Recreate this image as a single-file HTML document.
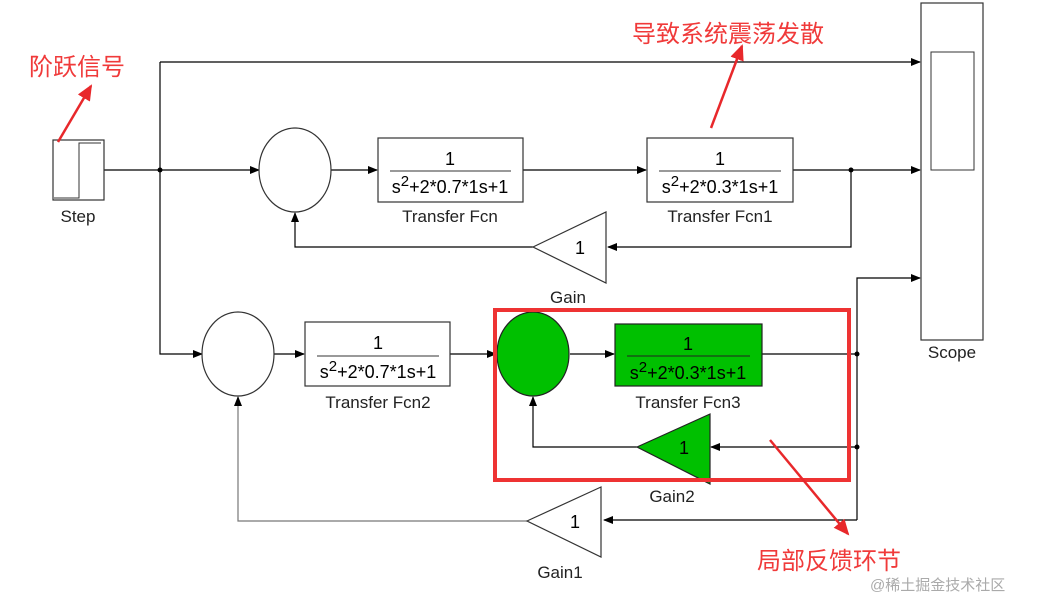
<!DOCTYPE html>
<html><head><meta charset="utf-8"><style>
html,body{margin:0;padding:0;background:#fff;}
svg{display:block;}
text{font-family:"Liberation Sans","Noto Sans CJK SC",sans-serif;}
</style></head><body>
<svg width="1038" height="599" viewBox="0 0 1038 599" xmlns="http://www.w3.org/2000/svg">
<defs>
<marker id="a" markerWidth="10" markerHeight="8" refX="9" refY="4" orient="auto" markerUnits="userSpaceOnUse"><path d="M0,0 L10,4 L0,8 Z" fill="#000"/></marker>
<marker id="r" markerWidth="16" markerHeight="14" refX="14" refY="7" orient="auto" markerUnits="userSpaceOnUse"><path d="M0,0 L16,7 L0,14 Z" fill="#e8282b"/></marker>
</defs>
<g stroke="#000" stroke-width="1.2" fill="none">
<polyline points="160,62 920,62" marker-end="url(#a)"/>
<polyline points="104,170 259,170" marker-end="url(#a)"/>
<polyline points="160,62 160,354 202,354" marker-end="url(#a)"/>
<polyline points="331,170 377,170" marker-end="url(#a)"/>
<polyline points="523,170 646,170" marker-end="url(#a)"/>
<polyline points="793,170 920,170" marker-end="url(#a)"/>
<polyline points="851,170 851,247 608,247" marker-end="url(#a)"/>
<polyline points="533,247 295,247 295,213" marker-end="url(#a)"/>
<polyline points="274,354 304,354" marker-end="url(#a)"/>
<polyline points="450,354 496,354" marker-end="url(#a)"/>
<polyline points="570,354 614,354" marker-end="url(#a)"/>
<polyline points="762,354 857,354"/>
<polyline points="857,520 857,278 920,278" marker-end="url(#a)"/>
<polyline points="857,447 711,447" marker-end="url(#a)"/>
<polyline points="637,447 533,447 533,397" marker-end="url(#a)"/>
<polyline points="857,520 604,520" marker-end="url(#a)"/>
<polyline points="527,521 238,521 238,397" stroke="#777" marker-end="url(#a)"/>
</g>
<g fill="#000">
<circle cx="160" cy="170" r="2.5"/><circle cx="851" cy="170" r="2.5"/>
<circle cx="857" cy="354" r="2.5"/><circle cx="857" cy="447" r="2.5"/>
</g>
<rect x="53" y="140" width="51" height="60" fill="#fff" stroke="#333" stroke-width="1.2"/>
<polyline points="54,198 79,198 79,143 101,143" fill="none" stroke="#333"/>
<text x="78" y="222" font-size="17" text-anchor="middle" fill="#222">Step</text>
<ellipse cx="295" cy="170" rx="36" ry="42" fill="#fff" stroke="#333" stroke-width="1.2"/>
<rect x="378" y="138" width="145" height="64" fill="#fff" stroke="#333" stroke-width="1.2"/>
<text x="450" y="165" font-size="18" text-anchor="middle">1</text>
<line x1="390" y1="171" x2="511" y2="171" stroke="#333"/>
<text x="450" y="193" font-size="18" text-anchor="middle">s<tspan dy="-7" font-size="15">2</tspan><tspan dy="7">+2*0.7*1s+1</tspan></text>
<text x="450" y="222" font-size="17" text-anchor="middle" fill="#222">Transfer Fcn</text>
<rect x="647" y="138" width="146" height="64" fill="#fff" stroke="#333" stroke-width="1.2"/>
<text x="720" y="165" font-size="18" text-anchor="middle">1</text>
<line x1="659" y1="171" x2="781" y2="171" stroke="#333"/>
<text x="720" y="193" font-size="18" text-anchor="middle">s<tspan dy="-7" font-size="15">2</tspan><tspan dy="7">+2*0.3*1s+1</tspan></text>
<text x="720" y="222" font-size="17" text-anchor="middle" fill="#222">Transfer Fcn1</text>
<polygon points="533,247 606,212 606,283" fill="#fff" stroke="#333" stroke-width="1.2"/>
<text x="580" y="254" font-size="18" text-anchor="middle">1</text>
<text x="568" y="303" font-size="17" text-anchor="middle" fill="#222">Gain</text>
<rect x="921" y="3" width="62" height="337" fill="#fff" stroke="#333" stroke-width="1.2"/>
<rect x="931" y="52" width="43" height="118" fill="#fff" stroke="#333"/>
<text x="952" y="358" font-size="17" text-anchor="middle" fill="#222">Scope</text>
<ellipse cx="238" cy="354" rx="36" ry="42" fill="#fff" stroke="#333" stroke-width="1.2"/>
<rect x="305" y="322" width="145" height="64" fill="#fff" stroke="#333" stroke-width="1.2"/>
<text x="378" y="349" font-size="18" text-anchor="middle">1</text>
<line x1="317" y1="356" x2="439" y2="356" stroke="#333"/>
<text x="378" y="378" font-size="18" text-anchor="middle">s<tspan dy="-7" font-size="15">2</tspan><tspan dy="7">+2*0.7*1s+1</tspan></text>
<text x="378" y="408" font-size="17" text-anchor="middle" fill="#222">Transfer Fcn2</text>
<ellipse cx="533" cy="354" rx="36" ry="42" fill="#00c000" stroke="#222" stroke-width="1.2"/>
<rect x="615" y="324" width="147" height="62" fill="#00c000" stroke="#222" stroke-width="1.2"/>
<text x="688" y="350" font-size="18" text-anchor="middle">1</text>
<line x1="627" y1="356" x2="750" y2="356" stroke="#222"/>
<text x="688" y="379" font-size="18" text-anchor="middle">s<tspan dy="-7" font-size="15">2</tspan><tspan dy="7">+2*0.3*1s+1</tspan></text>
<text x="688" y="408" font-size="17" text-anchor="middle" fill="#222">Transfer Fcn3</text>
<polygon points="637,447 710,414 710,484" fill="#00c000" stroke="#222" stroke-width="1.2"/>
<text x="684" y="454" font-size="18" text-anchor="middle">1</text>
<text x="672" y="502" font-size="17" text-anchor="middle" fill="#222">Gain2</text>
<polygon points="527,521 601,487 601,557" fill="#fff" stroke="#333" stroke-width="1.2"/>
<text x="575" y="528" font-size="18" text-anchor="middle">1</text>
<text x="560" y="578" font-size="17" text-anchor="middle" fill="#222">Gain1</text>
<rect x="495" y="310" width="354" height="170" fill="none" stroke="#ee3333" stroke-width="4"/>
<line x1="58" y1="142" x2="91" y2="86" stroke="#e8282b" stroke-width="2.5" marker-end="url(#r)"/>
<text x="29" y="75" font-size="24" fill="#f03a3a">阶跃信号</text>
<line x1="711" y1="128" x2="742" y2="46" stroke="#e8282b" stroke-width="2.5" marker-end="url(#r)"/>
<text x="632" y="42" font-size="24" fill="#f03a3a">导致系统震荡发散</text>
<line x1="770" y1="440" x2="848" y2="534" stroke="#e8282b" stroke-width="2.5" marker-end="url(#r)"/>
<text x="757" y="569" font-size="24" fill="#f03a3a">局部反馈环节</text>
<text x="870" y="590" font-size="15" fill="#aaa">@稀土掘金技术社区</text>
</svg>
</body></html>
